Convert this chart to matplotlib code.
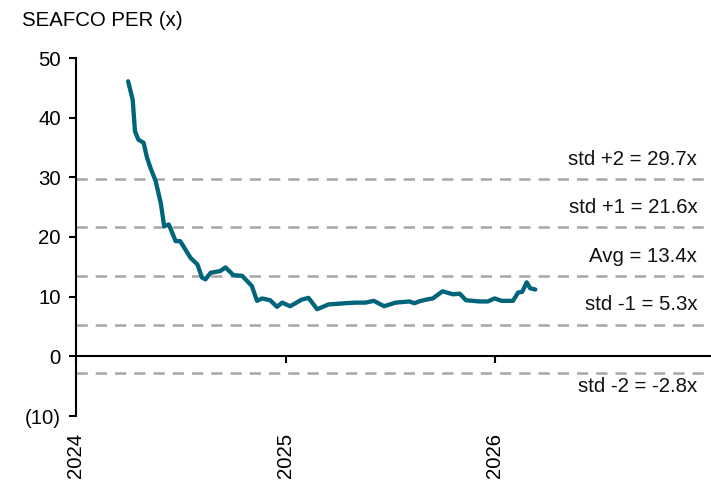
import matplotlib
matplotlib.use("Agg")
import matplotlib.pyplot as plt
import pandas as pd

plt.rcParams['font.family'] = ['Liberation Sans', 'DejaVu Sans']

title = "SEAFCO PER (x)"
dates = ["2024-04-01", "2024-04-09", "2024-04-13", "2024-04-19", "2024-04-28", "2024-05-04",
         "2024-05-10", "2024-05-19", "2024-05-28", "2024-06-03", "2024-06-11", "2024-06-23",
         "2024-07-01", "2024-07-19", "2024-07-31", "2024-08-08", "2024-08-14", "2024-08-23",
         "2024-09-09", "2024-09-18", "2024-10-02", "2024-10-17", "2024-11-03", "2024-11-12",
         "2024-11-21", "2024-12-05", "2024-12-17", "2024-12-26", "2025-01-09", "2025-01-29",
         "2025-02-10", "2025-02-25", "2025-03-17", "2025-04-15", "2025-05-03", "2025-05-20",
         "2025-06-04", "2025-06-22", "2025-07-12", "2025-08-05", "2025-08-14", "2025-08-22",
         "2025-09-03", "2025-09-15", "2025-10-02", "2025-10-20", "2025-11-01", "2025-11-12",
         "2025-12-05", "2025-12-20", "2026-01-01", "2026-01-13", "2026-02-02", "2026-02-11",
         "2026-02-18", "2026-02-26", "2026-03-04", "2026-03-13"]
per = [46.1, 43.0, 37.7, 36.3, 35.8, 33.3,
       31.6, 29.4, 25.7, 21.8, 22.1, 19.3,
       19.3, 16.5, 15.4, 13.2, 12.9, 14.0,
       14.3, 14.9, 13.6, 13.5, 11.8, 9.3,
       9.7, 9.4, 8.3, 9.0, 8.4, 9.5,
       9.8, 7.9, 8.7, 8.9, 9.0, 9.0,
       9.3, 8.4, 9.0, 9.2, 8.9, 9.2,
       9.5, 9.7, 10.9, 10.4, 10.5, 9.4,
       9.2, 9.2, 9.7, 9.3, 9.3, 10.7,
       10.8, 12.4, 11.4, 11.2]

band_values = [29.7, 21.6, 13.4, 5.3, -2.8]
band_labels = ["std +2 = 29.7x", "std +1 = 21.6x", "Avg = 13.4x", "std -1 = 5.3x", "std -2 = -2.8x"]
y_ticks = [-10, 0, 10, 20, 30, 40, 50]
x_ticks = ["2024-01-01", "2025-01-01", "2026-01-01"]
x_tick_labels = ["2024", "2025", "2026"]

FS = 14.7
fig = plt.figure(figsize=(7.11, 4.86), dpi=100)
ax = fig.add_axes([76/711, 1-416/486, (710-76)/711, (416-58)/486])

d = pd.to_datetime(dates)
for v, lab in zip(band_values, band_labels):
    ax.axhline(v, color='#A6A6A6', lw=1.8, dashes=(4.5, 3.2), zorder=1)
    off = -13 if v < 0 else 20
    ax.annotate(lab, xy=(0.98, v), xycoords=('axes fraction', 'data'),
                xytext=(0, off), textcoords='offset pixels', ha='right',
                va='center', fontsize=FS, color='#111111')

ax.plot(d, per, color='#00647A', lw=3.1, zorder=3, solid_joinstyle='round', solid_capstyle='round')

ax.set_ylim(-10, 50)
ax.set_yticks(y_ticks)
ax.set_yticklabels([f"({abs(t)})" if t < 0 else str(t) for t in y_ticks])
ax.set_xlim(pd.Timestamp("2024-01-01"), pd.Timestamp("2027-01-12"))
ax.set_xticks(pd.to_datetime(x_ticks))
ax.set_xticklabels(x_tick_labels)

for s in ['top', 'right']:
    ax.spines[s].set_visible(False)
ax.spines['bottom'].set_position(('data', 0))
ax.spines['bottom'].set_linewidth(1.5)
ax.spines['left'].set_linewidth(1.5)
ax.tick_params(axis='y', direction='out', length=5, width=1.5, labelsize=FS, pad=6)
ax.tick_params(axis='x', direction='out', length=5, width=1.5, labelsize=FS, pad=50,
               labelrotation=90)
for t in ax.get_xticklabels():
    t.set_va('top')

fig.text(22/711, 1-20/486, title, fontsize=FS, ha='left', va='center')

fig.savefig("out.png", dpi=100)
